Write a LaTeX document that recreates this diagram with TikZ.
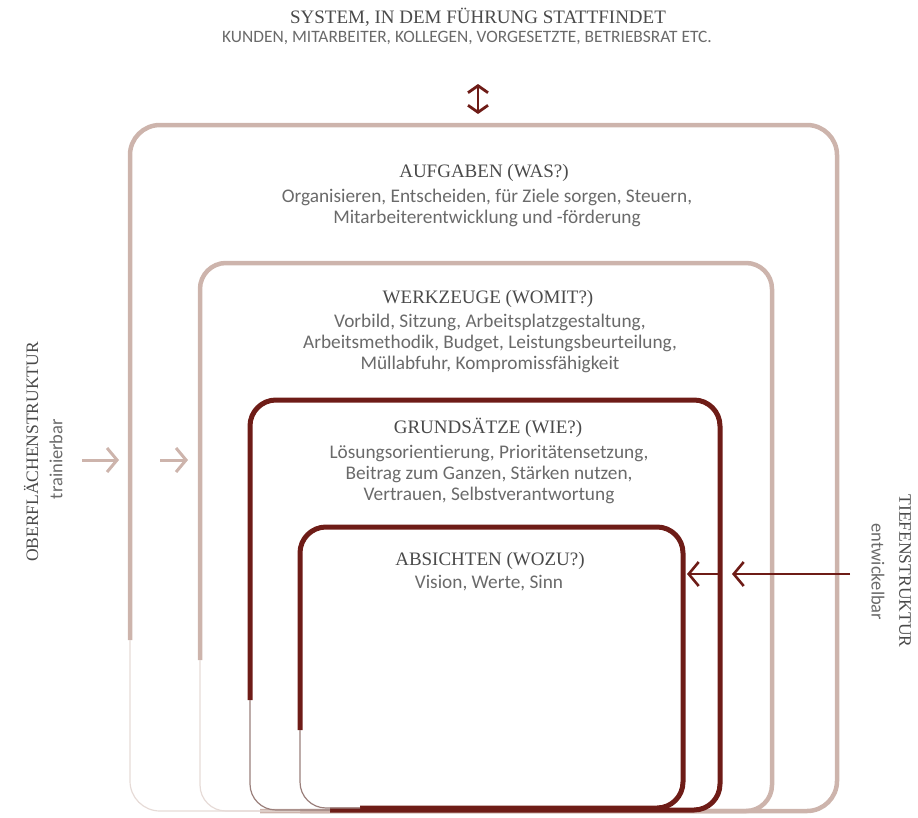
\documentclass[tikz,border=0pt]{standalone}
\usepackage{fontspec}
\setmainfont{Liberation Serif}
\newfontfamily\bodyfont[Ligatures=NoCommon]{Carlito}
\usetikzlibrary{arrows.meta}
\definecolor{lightbox}{HTML}{CDB4AC}
\definecolor{lightfade}{HTML}{E6DBD7}
\definecolor{darkred}{HTML}{6E1C17}
\definecolor{darkfade}{HTML}{9A7F7B}
\definecolor{headgray}{HTML}{4A4A4A}
\definecolor{bodygray}{HTML}{6A6A6A}
\tikzset{
  headtxt/.style={font=\fontsize{19}{20}\selectfont, text=headgray, inner sep=0pt, anchor=base},
  bodytxt/.style={font=\bodyfont\fontsize{19.3}{21}\selectfont, text=bodygray, inner sep=0pt, anchor=base},
  sidetxt/.style={font=\fontsize{17.5}{20}\selectfont, text=headgray, inner sep=0pt},
  sidesub/.style={font=\bodyfont\fontsize{18.5}{20}\selectfont, text=bodygray, inner sep=0pt},
  lightline/.style={draw=lightbox, line width=4.5pt},
  lightthin/.style={draw=lightfade, line width=1.2pt},
  darkline/.style={draw=darkred, line width=5pt},
  darkthin/.style={draw=darkfade, line width=1.2pt},
  barb/.style={-{Straight Barb[length=10pt,width=24pt]}},
}
\begin{document}
\begin{tikzpicture}[x=1pt,y=-1pt]
\useasboundingbox (0,0) rectangle (918,817);
% ---- titles
\node[headtxt] (sys) at (478,23) {SYSTEM, IN DEM FÜHRUNG STATTFINDET};
\node[bodytxt, font=\bodyfont\fontsize{17.4}{19}\selectfont] (sys2) at (467,42) {KUNDEN, MITARBEITER, KOLLEGEN, VORGESETZTE, BETRIEBSRAT ETC.};
% ---- boxes
% Aufgaben: L130 T125 R837 B811
\draw[lightline, rounded corners=30pt] (130,640) -- (130,125) -- (837,125) -- (837,811) -- (260,811);
\draw[lightthin, rounded corners=30pt] (260,811) -- (130,811) -- (130,640);
% Werkzeuge: L200 T263 R772 B811
\draw[lightline, rounded corners=26pt] (200,660) -- (200,263) -- (772,263) -- (772,811) -- (300,811);
\draw[lightthin, rounded corners=26pt] (300,811) -- (200,811) -- (200,660);
% Grundsaetze: L250 T400 R720 B810
\draw[darkline, rounded corners=26pt] (250,700) -- (250,400) -- (720,400) -- (720,810) -- (330,810);
\draw[darkthin, rounded corners=26pt] (330,810) -- (250,810) -- (250,700);
% Absichten: L300 T527 R683 B808
\draw[darkline, rounded corners=26pt] (300,730) -- (300,527) -- (683,527) -- (683,808) -- (360,808);
\draw[darkthin, rounded corners=26pt] (360,808) -- (300,808) -- (300,730);
\coordinate (grR) at (720,574);
\coordinate (abR) at (683,574);
% ---- box texts
\node[headtxt] (h1) at (484,177) {AUFGABEN (WAS?)};
\node[bodytxt] (b1a) at (487,202) {Organisieren, Entscheiden, für Ziele sorgen, Steuern,};
\node[bodytxt] (b1b) at (487,223) {Mitarbeiterentwicklung und -förderung};
\node[headtxt] (h2) at (488,303) {WERKZEUGE (WOMIT?)};
\node[bodytxt] (b2a) at (490,327) {Vorbild, Sitzung, Arbeitsplatzgestaltung,};
\node[bodytxt] (b2b) at (490,348) {Arbeitsmethodik, Budget, Leistungsbeurteilung,};
\node[bodytxt] (b2c) at (490,369) {Müllabfuhr, Kompromissfähigkeit};
\node[headtxt] (h3) at (488,433) {GRUNDSÄTZE (WIE?)};
\node[bodytxt] (b3a) at (489,458) {Lösungsorientierung, Prioritätensetzung,};
\node[bodytxt] (b3b) at (489,479) {Beitrag zum Ganzen, Stärken nutzen,};
\node[bodytxt] (b3c) at (489,500) {Vertrauen, Selbstverantwortung};
\node[headtxt] (h4) at (490,565) {ABSICHTEN (WOZU?)};
\node[bodytxt] (b4) at (489,588) {Vision, Werte, Sinn};
% ---- side texts
\node[sidetxt, rotate=90] (ob) at (31,452) {OBERFLÄCHENSTRUKTUR};
\node[sidesub, rotate=90] (tr) at (56,459) {trainierbar};
\node[sidetxt, rotate=-90] (ti) at (905,571) {TIEFENSTRUKTUR};
\node[sidesub, rotate=-90] (en) at (878,572) {entwickelbar};
% ---- arrows
\coordinate (ta) at (478,84);
\coordinate (tb) at (478,114);
\draw[draw=darkred, line width=2.8pt, {Straight Barb[length=7pt,width=20pt]}-{Straight Barb[length=7pt,width=20pt]}] (ta) -- (tb);
\coordinate (la1) at (82,460);
\coordinate (la2) at (119,460);
\coordinate (lb1) at (160,460);
\coordinate (lb2) at (188,460);
\draw[draw=lightbox, line width=3pt, barb] (la1) -- (la2);
\draw[draw=lightbox, line width=3pt, barb] (lb1) -- (lb2);
\coordinate (ra) at (850,574);
\draw[draw=darkred, line width=2.6pt, barb] (ra) -- ([xshift=12pt]grR);
\draw[draw=darkred, line width=2.6pt, barb] (grR) -- ([xshift=4pt]abR);
\end{tikzpicture}
\end{document}
